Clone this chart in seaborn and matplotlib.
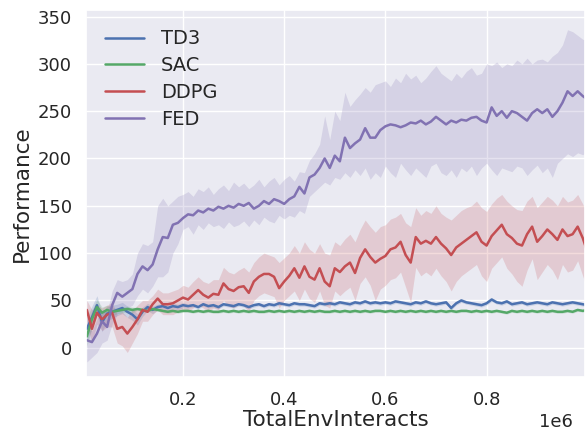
import numpy as np
import pandas as pd
import matplotlib
matplotlib.use("Agg")
import matplotlib.pyplot as plt
import seaborn as sns

# x positions (total env interacts)
steps = [i * 10000 for i in range(1, 101)]

algos = ["TD3", "SAC", "DDPG", "FED"]
colors = ["#4C72B0", "#55A868", "#C44E52", "#8172B2"]

td3_mean = [20, 32, 45, 27, 36, 38, 40, 42, 38, 35,
            30, 38, 43, 40, 43, 44, 42, 44, 43, 45,
            44, 45, 43, 46, 44, 45, 43, 46, 45, 44,
            46, 45, 43, 45, 46, 44, 46, 45, 47, 46,
            45, 47, 46, 46, 45, 44, 47, 46, 47, 46,
            48, 47, 46, 48, 47, 49, 47, 48, 47, 48,
            47, 49, 48, 47, 46, 48, 47, 49, 47, 46,
            47, 48, 42, 47, 50, 48, 47, 46, 45, 47,
            51, 48, 47, 49, 46, 47, 48, 46, 47, 48,
            47, 46, 48, 47, 46, 47, 48, 47, 46, 45]
td3_hw = [12, 12, 10, 10, 8, 7, 6, 6, 6, 6,
          6, 5, 4, 4, 3, 3, 3, 3, 3, 3] + [2] * 80

sac_mean = [12, 30, 43, 37, 40, 38, 39, 40, 41, 40,
            41, 40, 39, 41, 40, 39, 38, 39, 38, 39,
            39, 38, 39, 38, 39, 38, 38, 39, 38, 39,
            38, 39, 38, 39, 38, 38, 39, 38, 39, 38,
            39, 38, 39, 38, 39, 38, 39, 38, 38, 39,
            38, 39, 38, 39, 38, 39, 38, 39, 39, 38,
            39, 38, 39, 38, 39, 38, 39, 38, 39, 38,
            39, 38, 39, 38, 39, 39, 38, 39, 38, 39,
            38, 39, 38, 37, 39, 38, 39, 38, 39, 38,
            39, 38, 39, 38, 38, 39, 38, 40, 39, 40]
sac_hw = [10, 10, 8, 6, 5, 4, 3, 3, 3, 3] + [1.5] * 90

ddpg_mean = [40, 20, 37, 30, 35, 37, 20, 22, 15, 22,
             30, 40, 38, 46, 52, 46, 46, 47, 50, 53,
             51, 56, 61, 56, 53, 57, 56, 68, 62, 60,
             64, 65, 58, 70, 75, 78, 78, 75, 63, 70,
             76, 84, 74, 86, 75, 72, 84, 70, 65, 84,
             80, 86, 90, 79, 95, 104, 96, 90, 94, 97,
             104, 106, 112, 98, 90, 117, 110, 113, 110, 117,
             110, 105, 98, 106, 110, 114, 118, 122, 112, 108,
             118, 124, 130, 120, 116, 110, 108, 120, 128, 112,
             118, 125, 120, 114, 125, 118, 120, 128, 116, 100]
ddpg_hi = [50, 40, 45, 42, 45, 48, 35, 38, 32, 40,
           45, 50, 50, 55, 62, 58, 58, 60, 62, 66,
           64, 70, 75, 70, 68, 72, 72, 85, 80, 78,
           82, 85, 80, 90, 96, 100, 98, 96, 90, 95,
           100, 108, 100, 112, 104, 100, 110, 100, 98, 112,
           108, 115, 120, 112, 125, 135, 128, 122, 128, 130,
           136, 138, 142, 132, 128, 148, 140, 145, 142, 150,
           142, 138, 135, 140, 145, 148, 150, 155, 148, 144,
           152, 158, 162, 155, 150, 146, 145, 155, 160, 148,
           154, 160, 156, 150, 160, 154, 156, 162, 152, 140]
ddpg_lo = [25, 5, 25, 18, 22, 22, 5, 2, -5, 5,
           15, 28, 28, 35, 40, 35, 35, 35, 38, 40,
           38, 42, 46, 42, 38, 42, 40, 50, 44, 42,
           46, 44, 38, 50, 55, 58, 56, 54, 42, 50,
           55, 60, 50, 62, 52, 48, 60, 45, 42, 60,
           55, 60, 64, 50, 68, 75, 66, 50, 62, 66,
           72, 74, 80, 64, 48, 85, 76, 80, 76, 84,
           76, 70, 60, 70, 76, 80, 84, 88, 76, 70,
           84, 90, 96, 84, 78, 70, 65, 82, 94, 72,
           80, 88, 82, 72, 88, 80, 82, 92, 76, 60]

fed_mean = [8, 6, 15, 28, 22, 45, 58, 54, 58, 62,
            78, 86, 82, 88, 104, 117, 116, 130, 132, 137,
            141, 140, 145, 143, 147, 145, 149, 147, 150, 148,
            152, 150, 153, 147, 150, 155, 152, 157, 155, 152,
            157, 160, 170, 163, 180, 183, 190, 200, 190, 203,
            197, 222, 211, 216, 220, 232, 222, 222, 230, 234,
            236, 235, 233, 235, 238, 237, 240, 236, 239, 244,
            240, 236, 240, 238, 241, 240, 243, 244, 240, 238,
            254, 245, 250, 243, 250, 248, 244, 240, 248, 252,
            248, 252, 244, 250, 259, 271, 266, 271, 266, 262]
fed_hi = [20, 18, 30, 40, 38, 60, 72, 70, 72, 78,
          100, 110, 108, 112, 150, 158, 150, 155, 160, 162,
          165, 160, 168, 165, 170, 162, 168, 172, 166, 175,
          170, 174, 168, 172, 178, 170, 176, 180, 172, 178,
          182, 176, 186, 185, 198, 205, 215, 245, 220, 250,
          240, 270, 255, 262, 268, 275, 270, 278, 280, 282,
          276, 285, 280, 290, 284, 288, 280, 285, 292, 298,
          290, 286, 282, 290, 285, 292, 296, 288, 290, 300,
          298, 302, 296, 300, 298, 304, 300, 306, 300, 304,
          305, 302, 308, 312, 320, 336, 334, 330, 326, 324]
fed_lo = [-15, -10, -5, 5, 8, 25, 35, 38, 42, 45,
          55, 62, 58, 65, 75, 75, 80, 100, 110, 125,
          128, 120, 130, 125, 132, 128, 130, 126, 133, 128,
          130, 134, 128, 135, 130, 138, 134, 132, 140, 136,
          140, 138, 145, 142, 160, 165, 170, 175, 172, 180,
          178, 185, 180, 188, 182, 190, 178, 185, 180, 192,
          185, 180, 195, 188, 182, 190, 185, 180, 192, 195,
          185, 182, 188, 180, 190, 186, 192, 182, 190, 195,
          188, 182, 190, 188, 186, 192, 190, 182, 188, 193,
          185, 190, 180, 195, 200, 205, 202, 206, 204, 208]

means = [td3_mean, sac_mean, ddpg_mean, fed_mean]
his = [[m + h for m, h in zip(td3_mean, td3_hw)],
       [m + h for m, h in zip(sac_mean, sac_hw)],
       ddpg_hi, fed_hi]
los = [[m - h for m, h in zip(td3_mean, td3_hw)],
       [m - h for m, h in zip(sac_mean, sac_hw)],
       ddpg_lo, fed_lo]

df = pd.concat([pd.DataFrame({"TotalEnvInteracts": steps, "Performance": m, "Algo": a})
                for a, m in zip(algos, means)], ignore_index=True)

sns.set_theme(style="darkgrid")
plt.rcParams['font.family'] = ['DejaVu Sans']

fig = plt.figure(figsize=(5.85, 4.30), dpi=100)
ax = fig.add_axes([0.147, 0.123, 0.853, 0.854])

for a, c, lo, hi in zip(algos, colors, los, his):
    ax.fill_between(steps, lo, hi, color=c, alpha=0.2, linewidth=0)

sns.lineplot(data=df, x="TotalEnvInteracts", y="Performance", hue="Algo",
             palette=colors, hue_order=algos, linewidth=1.8, ax=ax)

ax.set_xlim(8300, 994500)
ax.set_ylim(-31, 357)
ax.set_yticks([0, 50, 100, 150, 200, 250, 300, 350])
ax.set_xticks([200000, 400000, 600000, 800000])
ax.ticklabel_format(axis="x", style="sci", scilimits=(6, 6))
ax.tick_params(labelsize=13, pad=4)
ax.xaxis.get_offset_text().set_fontsize(13)
ax.xaxis.get_offset_text().set_x(0.975)
ax.set_xlabel("TotalEnvInteracts", fontsize=15.5, labelpad=1)
ax.set_ylabel("Performance", fontsize=15.5, labelpad=4)

leg = ax.legend(loc="upper left", frameon=False, fontsize=14,
                handlelength=2.0, handletextpad=0.85, labelspacing=0.4,
                borderaxespad=0.6)
leg.set_title(None)

fig.savefig("out.png", dpi=100)
